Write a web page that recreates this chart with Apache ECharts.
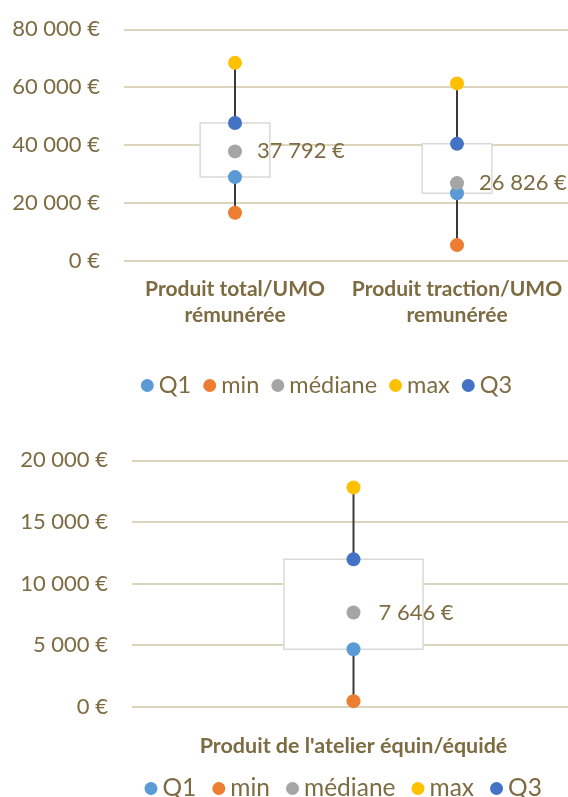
<!DOCTYPE html>
<html>
<head>
<meta charset="utf-8">
<script src="https://cdn.jsdelivr.net/npm/echarts@6/dist/echarts.min.js"></script>
<style>
html,body{margin:0;padding:0;background:#fff;}
#c{width:568px;height:797px;}
</style>
</head>
<body>
<div id="c"></div>
<script>
// ---- Data ----
const seriesNames = ['Q1', 'min', 'médiane', 'max', 'Q3'];
const seriesColors = ['#5B9BD5', '#ED7D31', '#A5A5A5', '#FFC000', '#4472C4'];

const topCategories = ['Produit total/UMO\nrémunérée', 'Produit traction/UMO\nremunérée'];
const topMin = [16600, 5400];
const topQ1 = [28900, 23300];
const topMedian = [37792, 26826];
const topQ3 = [47600, 40400];
const topMax = [68400, 61300];
const topTicks = [0, 20000, 40000, 60000, 80000];

const bottomCategories = ["Produit de l'atelier équin/équidé"];
const bottomMin = [450];
const bottomQ1 = [4660];
const bottomMedian = [7646];
const bottomQ3 = [11960];
const bottomMax = [17800];
const bottomTicks = [0, 5000, 10000, 15000, 20000];

// ---- Styles ----
const TXT = '#7D6B42';
const GRID = '#DCD5BD';
const FONT = 'Lato';

function fmt(v) {
  return String(Math.round(v)).replace(/\B(?=(\d{3})+(?!\d))/g, ' ') + ' €';
}

function buildSeries(idx, min, q1, med, q3, max, labelDist) {
  const out = [];
  out.push({
    type: 'custom', xAxisIndex: idx, yAxisIndex: idx, z: 1, silent: true,
    encode: { x: 0, y: [1, 2] },
    data: min.map((v, i) => [i, v, max[i]]),
    renderItem: function (params, api) {
      const a = api.coord([api.value(0), api.value(1)]);
      const b = api.coord([api.value(0), api.value(2)]);
      return { type: 'line', shape: { x1: a[0], y1: a[1], x2: b[0], y2: b[1] },
        style: { stroke: '#3A3A3A', lineWidth: 2 } };
    }
  });
  out.push({
    type: 'custom', xAxisIndex: idx, yAxisIndex: idx, z: 2, silent: true,
    encode: { x: 0, y: [1, 2] },
    data: q1.map((v, i) => [i, v, q3[i]]),
    renderItem: function (params, api) {
      const a = api.coord([api.value(0), api.value(1)]);
      const b = api.coord([api.value(0), api.value(2)]);
      const w = api.size([1, 0])[0] * 0.314;
      return { type: 'rect', shape: { x: a[0] - w / 2, y: b[1], width: w, height: a[1] - b[1] },
        style: { fill: '#FFFFFF', stroke: '#D9D9D9', lineWidth: 1.5 } };
    }
  });
  const vals = [q1, min, med, max, q3];
  seriesNames.forEach((n, k) => {
    const s = {
      name: n, type: 'scatter', xAxisIndex: idx, yAxisIndex: idx, z: 3,
      symbol: 'circle', symbolSize: 14,
      itemStyle: { color: seriesColors[k], opacity: 1 },
      data: vals[k]
    };
    if (n === 'médiane') {
      s.label = { show: true, position: 'right', distance: labelDist,
        formatter: p => fmt(p.value), color: TXT, fontSize: 22, fontFamily: FONT };
    }
    out.push(s);
  });
  return out;
}

function legendFor(left, top, gap, size) {
  return {
    icon: 'circle', itemWidth: 13, itemHeight: 13, left: left, top: top, itemGap: gap,
    textStyle: { color: TXT, fontSize: size, fontFamily: FONT, padding: [0, 0, 0, 0] },
    data: seriesNames
  };
}

const chart = echarts.init(document.getElementById('c'), null, { renderer: 'canvas' });
chart.setOption({
  animation: false,
  backgroundColor: '#FFFFFF',
  textStyle: { fontFamily: FONT },
  color: seriesColors,
  grid: [
    { left: 124, right: 0, top: 29.3, height: 231.4, containLabel: false, outerBoundsMode: 'none' },
    { left: 132, width: 443, top: 460.3, height: 246.4, containLabel: false, outerBoundsMode: 'none' }
  ],
  legend: [
    legendFor(135.8, 368.5, 12, 23.5),
    legendFor(139.5, 771, 16, 24.5)
  ],
  xAxis: [
    { type: 'category', gridIndex: 0, data: topCategories,
      axisLine: { show: false }, axisTick: { show: false },
      axisLabel: { color: TXT, fontSize: 21, fontWeight: 'bold', fontFamily: FONT, lineHeight: 26, margin: 16, interval: 0 } },
    { type: 'category', gridIndex: 1, data: bottomCategories,
      axisLine: { show: false }, axisTick: { show: false },
      axisLabel: { color: TXT, fontSize: 21.5, fontWeight: 'bold', fontFamily: FONT, lineHeight: 26, margin: 26, interval: 0 } }
  ],
  yAxis: [
    { type: 'value', gridIndex: 0, min: topTicks[0], max: topTicks[topTicks.length - 1],
      interval: topTicks[1] - topTicks[0],
      axisLine: { show: false }, axisTick: { show: false },
      splitLine: { lineStyle: { color: GRID, width: 2 } },
      axisLabel: { color: TXT, fontSize: 22, fontFamily: FONT, margin: 24, formatter: fmt } },
    { type: 'value', gridIndex: 1, min: bottomTicks[0], max: bottomTicks[bottomTicks.length - 1],
      interval: bottomTicks[1] - bottomTicks[0],
      axisLine: { show: false }, axisTick: { show: false },
      splitLine: { lineStyle: { color: GRID, width: 2 } },
      axisLabel: { color: TXT, fontSize: 22, fontFamily: FONT, margin: 24, formatter: fmt } }
  ],
  series: buildSeries(0, topMin, topQ1, topMedian, topQ3, topMax, 15)
    .concat(buildSeries(1, bottomMin, bottomQ1, bottomMedian, bottomQ3, bottomMax, 18))
});
</script>
</body>
</html>
